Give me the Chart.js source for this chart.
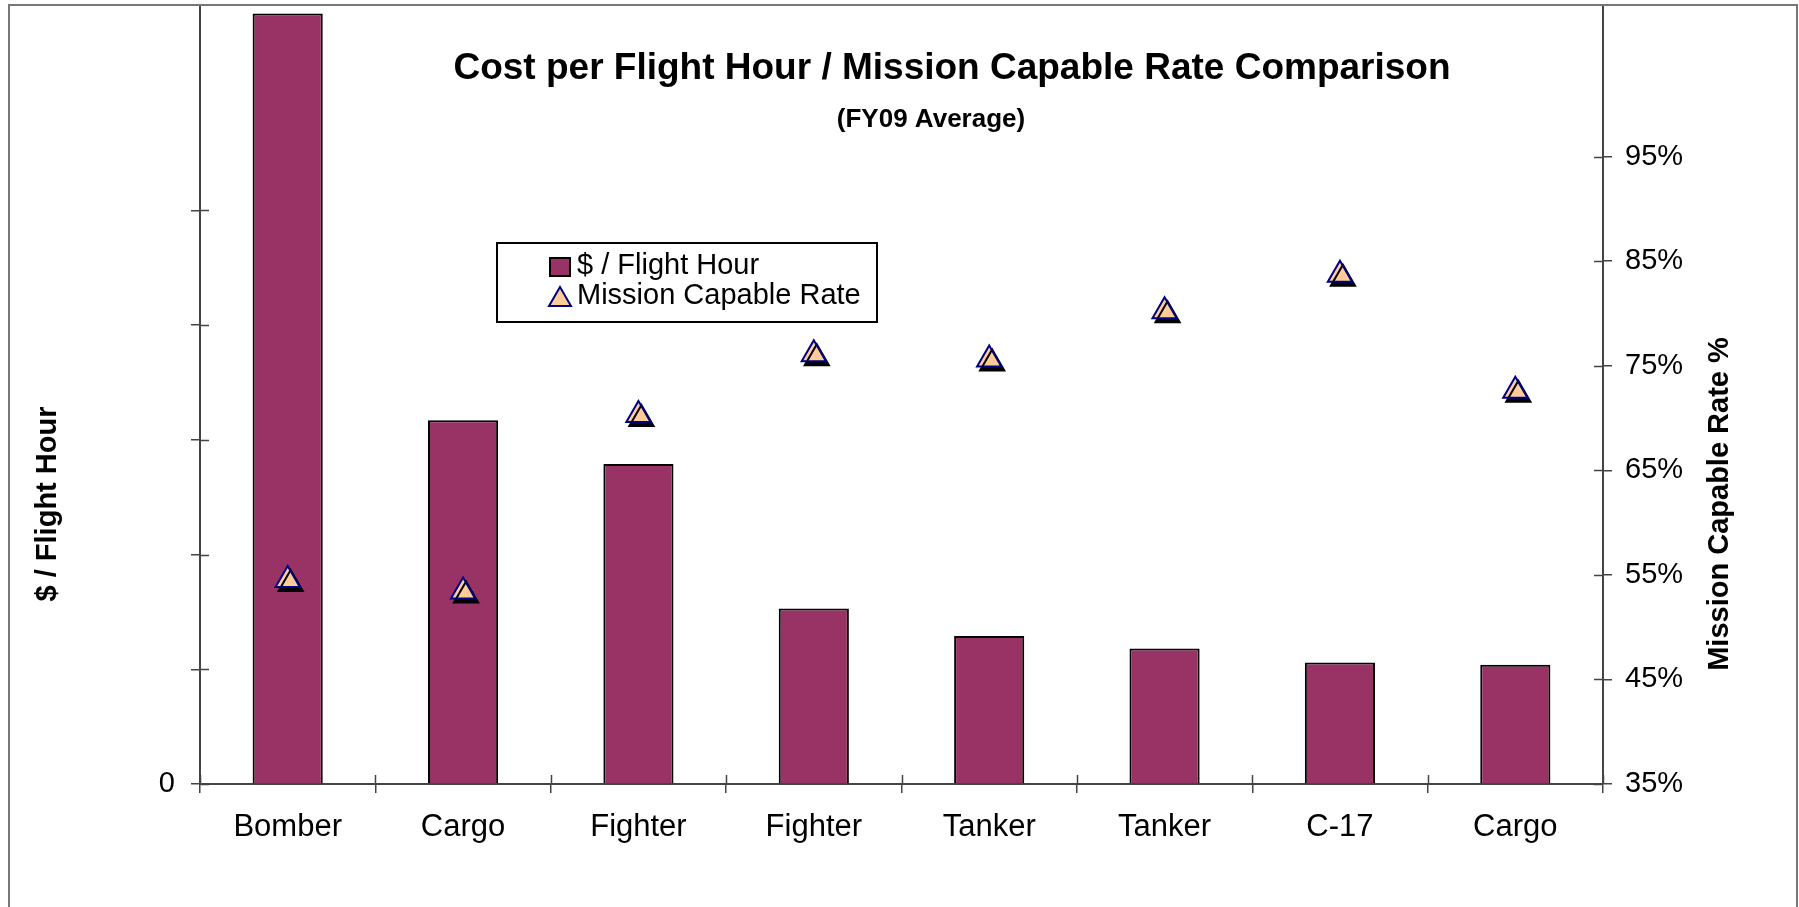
<!DOCTYPE html>
<html>
<head>
<meta charset="utf-8">
<script src="https://cdn.jsdelivr.net/npm/chart.js@4.4.1/dist/chart.umd.min.js"></script>
<style>
  html, body { margin: 0; padding: 0; background: #fff; }
  canvas { display: block; }
</style>
</head>
<body>
<canvas id="myChart" width="1799" height="907"></canvas>
<script>
let aircraftTypes = ['Bomber', 'Cargo', 'Fighter', 'Fighter', 'Tanker', 'Tanker', 'C-17', 'Cargo'];
let costPerFlightHour = [134300, 63400, 55800, 30600, 25800, 23600, 21200, 20800];
let missionCapableRate = [54.5, 53.4, 70.3, 76.1, 75.6, 80.2, 83.7, 72.6];
let costTicks = [0, 20000, 40000, 60000, 80000, 100000];
let costTickLabels = ['0', '', '', '', '', ''];
let rateTicks = [35, 45, 55, 65, 75, 85, 95];

const BAR_COLOR = '#993366';
const TRI_FILL = '#FFCC99';
const TRI_LINE = '#000080';
const AXIS_COLOR = '#444444';
const FONT = '"Liberation Sans", Arial, sans-serif';

// black drop shadow under the triangles, like the excel marker shadow
const shadowPlugin = {
    id: 'markerShadow',
    beforeDatasetDraw(chart, args) {
        if (chart.data.datasets[args.index].type !== 'line') return;
        const ctx = chart.ctx;
        ctx.save();
        ctx.shadowColor = '#000';
        ctx.shadowOffsetX = 3;
        ctx.shadowOffsetY = 4;
        ctx.shadowBlur = 0;
    },
    afterDatasetDraw(chart, args) {
        if (chart.data.datasets[args.index].type !== 'line') return;
        chart.ctx.restore();
    }
};

function triangle(ctx, x, top, w, h) {
    ctx.beginPath();
    ctx.moveTo(x + w / 2, top);
    ctx.lineTo(x + w, top + h);
    ctx.lineTo(x, top + h);
    ctx.closePath();
}

// no label overhang, so the plot fills the frame like the original
function noPad(s) {
    s.paddingTop = 0;
    s.paddingBottom = 0;
    s.paddingLeft = 0;
    s.paddingRight = 0;
}

const decorPlugin = {
    id: 'decor',
    afterDraw(chart) {
        const ctx = chart.ctx;
        const xs = chart.scales.x, yl = chart.scales.y, yr = chart.scales.y1;
        const area = chart.chartArea;
        ctx.save();

        // inner half of the cross ticks
        ctx.strokeStyle = AXIS_COLOR;
        ctx.lineWidth = 1.5;
        ctx.beginPath();
        for (let i = 0; i <= aircraftTypes.length; i++) {
            const px = Math.round(xs.getPixelForValue(i - 0.5)) + 0.5;
            ctx.moveTo(px, area.bottom);
            ctx.lineTo(px, area.bottom - 9);
        }
        costTicks.forEach(v => {
            const py = Math.round(yl.getPixelForValue(v)) + 0.5;
            ctx.moveTo(area.left, py);
            ctx.lineTo(area.left + 9, py);
        });
        rateTicks.forEach(v => {
            const py = Math.round(yr.getPixelForValue(v)) + 0.5;
            ctx.moveTo(area.right, py);
            ctx.lineTo(area.right - 9, py);
        });
        ctx.stroke();

        // outer frame
        ctx.strokeStyle = '#777';
        ctx.lineWidth = 2;
        ctx.strokeRect(9, 5, 1788, 920);

        // titles
        ctx.fillStyle = '#000';
        ctx.textAlign = 'center';
        ctx.textBaseline = 'alphabetic';
        ctx.font = 'bold 37px ' + FONT;
        ctx.fillText('Cost per Flight Hour / Mission Capable Rate Comparison', 952, 79);
        ctx.font = 'bold 26px ' + FONT;
        ctx.fillText('(FY09 Average)', 931, 127);

        // axis titles
        ctx.font = 'bold 29px ' + FONT;
        ctx.textBaseline = 'middle';
        ctx.save();
        ctx.translate(48, 504);
        ctx.rotate(-Math.PI / 2);
        ctx.fillText('$ / Flight Hour', 0, 0);
        ctx.restore();
        ctx.save();
        ctx.translate(1720, 504);
        ctx.rotate(-Math.PI / 2);
        ctx.fillText('Mission Capable Rate %', 0, 0);
        ctx.restore();

        // legend box
        const ds = chart.data.datasets;
        ctx.fillStyle = '#fff';
        ctx.fillRect(497, 243, 380, 79);
        ctx.strokeStyle = '#000';
        ctx.lineWidth = 2;
        ctx.strokeRect(497, 243, 380, 79);
        ctx.fillStyle = BAR_COLOR;
        ctx.fillRect(550, 258, 20, 18);
        ctx.strokeRect(550, 258, 20, 18);
        triangle(ctx, 549, 287, 22, 19);
        ctx.fillStyle = TRI_FILL;
        ctx.fill();
        ctx.strokeStyle = TRI_LINE;
        ctx.stroke();
        ctx.fillStyle = '#000';
        ctx.font = '29px ' + FONT;
        ctx.textAlign = 'left';
        ctx.textBaseline = 'alphabetic';
        ctx.fillText(ds[1].label, 577, 274);
        ctx.fillText(ds[0].label, 577, 304);

        ctx.restore();
    }
};

let chartElement = document.getElementById('myChart').getContext('2d');

let myChart = new Chart(chartElement, {
    data: {
        labels: aircraftTypes,
        datasets: [{
            type: 'line',
            label: 'Mission Capable Rate',
            data: missionCapableRate,
            yAxisID: 'y1',
            showLine: false,
            order: 0,
            pointStyle: 'triangle',
            pointRadius: 14,
            pointHoverRadius: 14,
            pointBackgroundColor: TRI_FILL,
            pointBorderColor: TRI_LINE,
            pointBorderWidth: 2,
            clip: false
        }, {
            type: 'bar',
            label: '$ / Flight Hour',
            data: costPerFlightHour,
            yAxisID: 'y',
            order: 1,
            backgroundColor: BAR_COLOR,
            borderColor: '#000',
            borderWidth: 2,
            barPercentage: 0.4,
            categoryPercentage: 1.0
        }]
    },
    options: {
        responsive: false,
        animation: false,
        layout: { autoPadding: false, padding: { top: 5, left: 0, right: 0, bottom: 0 } },
        plugins: {
            legend: { display: false },
            tooltip: { enabled: false }
        },
        scales: {
            x: {
                offset: true,
                grid: { offset: true, drawOnChartArea: false, tickLength: 9, color: AXIS_COLOR, lineWidth: 1.5 },
                border: { color: AXIS_COLOR, width: 2 },
                ticks: { color: '#000', font: { family: FONT, size: 31 }, padding: 16, maxRotation: 0, autoSkip: false },
                afterFit: s => { s.height = 123; noPad(s); }
            },
            y: {
                position: 'left',
                min: 0,
                max: 135800,
                afterBuildTicks: s => { s.ticks = costTicks.map(v => ({ value: v })); },
                grid: { drawOnChartArea: false, tickLength: 9, color: AXIS_COLOR, lineWidth: 1.5 },
                border: { color: AXIS_COLOR, width: 2 },
                ticks: {
                    color: '#000',
                    font: { family: FONT, size: 29 },
                    padding: 16,
                    callback: v => costTickLabels[costTicks.indexOf(v)] || ''
                },
                afterFit: s => { s.width = 200; noPad(s); }
            },
            y1: {
                position: 'right',
                min: 35,
                max: 109.5,
                afterBuildTicks: s => { s.ticks = rateTicks.map(v => ({ value: v })); },
                grid: { drawOnChartArea: false, tickLength: 9, color: AXIS_COLOR, lineWidth: 1.5 },
                border: { color: AXIS_COLOR, width: 2 },
                ticks: {
                    color: '#000',
                    font: { family: FONT, size: 29 },
                    padding: 13,
                    callback: v => v + '%'
                },
                afterFit: s => { s.width = 196; noPad(s); }
            }
        }
    },
    plugins: [shadowPlugin, decorPlugin]
});
</script>
</body>
</html>
